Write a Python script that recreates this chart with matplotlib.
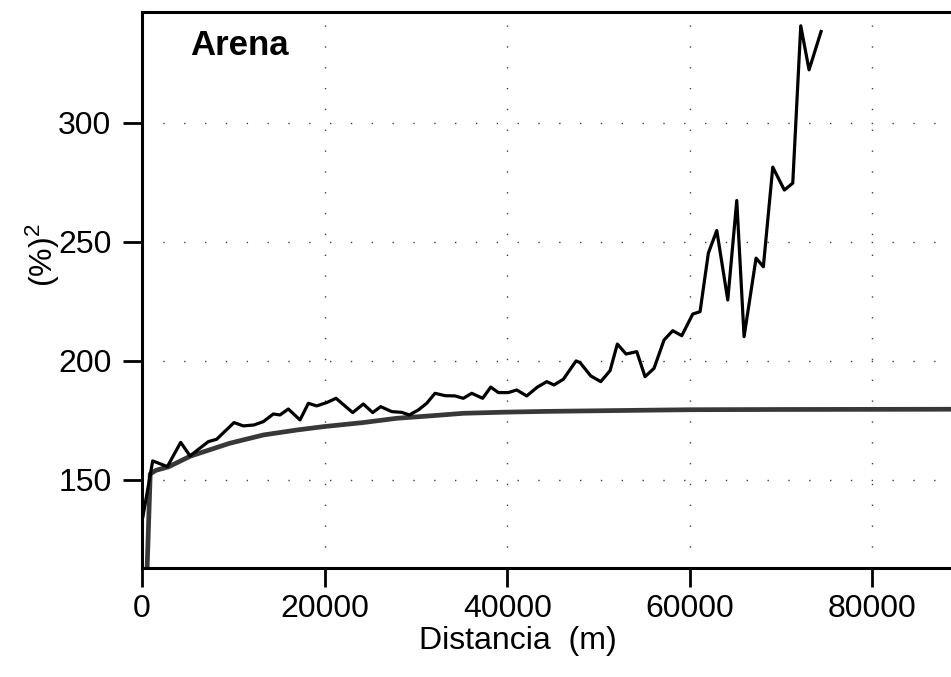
import matplotlib
matplotlib.use("Agg")
import matplotlib.pyplot as plt
from matplotlib import font_manager

# pick the narrow face if the system has it
names = {f.name for f in font_manager.fontManager.ttflist}
if "Liberation Sans Narrow" in names:
    FAM, TICK_FS, LAB_FS, TITLE_FS = "Liberation Sans Narrow", 25, 25, 29
else:
    FAM, TICK_FS, LAB_FS, TITLE_FS = "Liberation Sans", 23, 23, 25

plt.rcParams["font.family"] = [FAM, "DejaVu Sans"]
plt.rcParams["mathtext.fontset"] = "custom"
plt.rcParams["mathtext.rm"] = FAM
plt.rcParams["mathtext.it"] = FAM

dist_exp = [100, 1170, 2775, 4240, 5257, 7265, 8180, 10077, 11100, 12267,
            13290, 14380, 15115, 16025, 17306, 18220, 19130, 20230, 21250, 23075,
            24240, 25265, 26140, 27350, 28440, 29280, 30265, 31180, 32090, 33190,
            34280, 35190, 36110, 37310, 38190, 39030, 40120, 41040, 42130, 43300,
            44330, 45126, 46145, 47536, 47974, 49146, 50241, 51260, 52060, 53011,
            54183, 55093, 56078, 57174, 58127, 59113, 60318, 61117, 62027, 62947,
            64152, 65137, 65937, 67251, 68050, 69080, 70350, 71270, 72146, 73055,
            74370]
gamma_exp = [134.6, 158.0, 155.6, 165.8, 160.1, 166.1, 167.1, 174.1, 172.7, 173.1,
             174.5, 177.7, 177.3, 179.8, 175.2, 182.2, 181.1, 182.5, 184.3, 178.3,
             181.9, 178.3, 180.8, 178.7, 178.4, 177.3, 179.4, 182.2, 186.4, 185.4,
             185.3, 184.3, 186.4, 184.3, 189.0, 186.7, 186.7, 187.8, 185.3, 189.0,
             191.3, 189.9, 192.3, 200.0, 199.3, 193.7, 191.3, 195.9, 207.1, 202.9,
             203.9, 193.4, 196.9, 208.8, 212.7, 210.6, 219.7, 220.7, 245.3, 254.8,
             225.6, 267.4, 210.2, 243.2, 239.6, 281.4, 271.8, 274.7, 340.8, 322.3,
             338.4]

# fitted model curve
dist_mod = [450, 900, 1500, 2900, 5300, 9600, 13300, 17000, 19900, 24200,
            27900, 31500, 35200, 40000, 44300, 53000, 60000, 70000, 88600]
gamma_mod = [100.0, 152.5, 154.0, 155.5, 160.0, 165.4, 168.9, 171.0, 172.4, 174.1,
             175.9, 176.9, 178.0, 178.5, 178.8, 179.2, 179.5, 179.6, 179.7]

xticks = [0, 20000, 40000, 60000, 80000]
yticks = [150, 200, 250, 300]

fig = plt.figure(figsize=(9.51, 6.77), dpi=100)
ax = fig.add_axes([142 / 951, 1 - 568 / 677, 1 - 142 / 951, (568 - 12) / 677])

ax.plot(dist_mod, gamma_mod, color="#383838", lw=3.4, solid_capstyle="butt")
ax.plot(dist_exp, gamma_exp, color="black", lw=2.3)

ax.set_xlim(0, 88600)
ax.set_ylim(113, 346.6)
ax.set_xticks(xticks)
ax.set_xticklabels([str(v) for v in xticks])
ax.set_yticks(yticks)
ax.set_yticklabels([str(v) for v in yticks])

ax.grid(True, color="black", lw=1.0, linestyle=(0, (1, 14)), alpha=0.75)
ax.set_axisbelow(True)

for s in ["left", "bottom", "top"]:
    ax.spines[s].set_linewidth(2.2)
ax.spines["right"].set_visible(False)

ax.tick_params(axis="x", direction="out", length=14, width=2, pad=5, labelsize=TICK_FS)
ax.tick_params(axis="y", direction="out", length=14, width=2, pad=8, labelsize=TICK_FS)

ax.text(0.059, 0.94, "Arena", transform=ax.transAxes, fontsize=TITLE_FS,
        fontweight="bold", ha="left", va="center")

fig.text(518 / 951, 1 - 641 / 677, "Distancia  (m)", fontsize=LAB_FS,
         ha="center", va="center")
fig.text(43 / 951, 1 - 255 / 677, "(%)$^{2}$", fontsize=LAB_FS, rotation=90,
         ha="center", va="center")

fig.savefig("out.png", dpi=100)
